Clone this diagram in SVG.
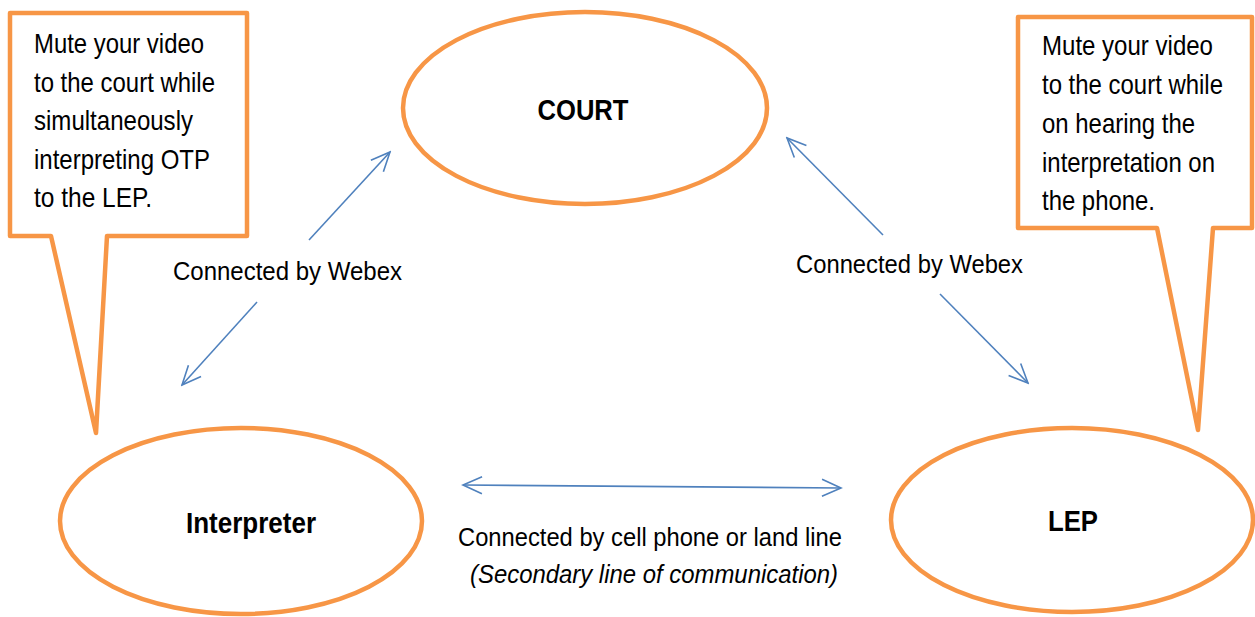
<svg xmlns="http://www.w3.org/2000/svg" width="1255" height="617" viewBox="0 0 1255 617">
<style>
.node{fill:#fff;stroke:#F79646;stroke-width:4.5}
.call{fill:#fff;stroke:#F79646;stroke-width:4.5;stroke-linejoin:round}
.t{font-family:"Liberation Sans Narrow","Liberation Sans",Arial,sans-serif;fill:#000}
.ct{font-size:28.5px}
.lab{font-size:29px;font-weight:bold}
.cl{font-size:25.5px}
.conn line{stroke:#4F81BD;stroke-width:1.6;fill:none}
</style>
<defs>
<marker id="ah" viewBox="-22 -12 24 24" refX="0" refY="0" markerWidth="24" markerHeight="24" markerUnits="userSpaceOnUse" orient="auto-start-reverse">
<path d="M-19,-8.5 L0,0 L-19,8.5" fill="none" stroke="#4F81BD" stroke-width="1.6"/>
</marker>
</defs>
<rect width="1255" height="617" fill="#fff"/>
<g id="court">
<ellipse class="node" cx="585" cy="108" rx="182" ry="96"/>
<text class="t lab" x="583" y="120" text-anchor="middle" textLength="91" lengthAdjust="spacingAndGlyphs">COURT</text>
</g>
<g id="interpreter">
<ellipse class="node" cx="241" cy="521" rx="181" ry="93"/>
<text class="t lab" x="186" y="533" textLength="130" lengthAdjust="spacingAndGlyphs">Interpreter</text>
</g>
<g id="lep">
<ellipse class="node" cx="1072" cy="520" rx="181" ry="92"/>
<text class="t lab" x="1048" y="531" textLength="50" lengthAdjust="spacingAndGlyphs">LEP</text>
</g>
<g id="callout-left">
<path class="call" d="M10,13 H247 V236 H107 L96,433 L51,236 H10 Z"/>
<text class="t ct" x="34" y="53" textLength="170" lengthAdjust="spacingAndGlyphs">Mute your video</text>
<text class="t ct" x="34" y="92" textLength="181" lengthAdjust="spacingAndGlyphs">to the court while</text>
<text class="t ct" x="34" y="130" textLength="159" lengthAdjust="spacingAndGlyphs">simultaneously</text>
<text class="t ct" x="34" y="169" textLength="176" lengthAdjust="spacingAndGlyphs">interpreting OTP</text>
<text class="t ct" x="34" y="207" textLength="118" lengthAdjust="spacingAndGlyphs">to the LEP.</text>
</g>
<g id="callout-right">
<path class="call" d="M1018,17 H1252 V228 H1213 L1198,430 L1157,228 H1018 Z"/>
<text class="t ct" x="1042" y="55" textLength="171" lengthAdjust="spacingAndGlyphs">Mute your video</text>
<text class="t ct" x="1042" y="94" textLength="181" lengthAdjust="spacingAndGlyphs">to the court while</text>
<text class="t ct" x="1042" y="133" textLength="153" lengthAdjust="spacingAndGlyphs">on hearing the</text>
<text class="t ct" x="1042" y="172" textLength="173" lengthAdjust="spacingAndGlyphs">interpretation on</text>
<text class="t ct" x="1042" y="210" textLength="113" lengthAdjust="spacingAndGlyphs">the phone.</text>
</g>
<g id="connectors" class="conn">
<line x1="309" y1="240" x2="390" y2="152" marker-end="url(#ah)"/>
<line x1="257" y1="302" x2="182" y2="385" marker-end="url(#ah)"/>
<line x1="883" y1="235" x2="787" y2="138" marker-end="url(#ah)"/>
<line x1="940" y1="294" x2="1028" y2="383" marker-end="url(#ah)"/>
<line x1="463" y1="485" x2="841" y2="488" marker-start="url(#ah)" marker-end="url(#ah)"/>
</g>
<g id="labels">
<text class="t cl" x="173" y="280" textLength="229" lengthAdjust="spacingAndGlyphs">Connected by Webex</text>
<text class="t cl" x="796" y="273" textLength="227" lengthAdjust="spacingAndGlyphs">Connected by Webex</text>
<text class="t cl" x="458" y="546" textLength="384" lengthAdjust="spacingAndGlyphs">Connected by cell phone or land line</text>
<text class="t cl" x="470" y="583" font-style="italic" textLength="368" lengthAdjust="spacingAndGlyphs">(Secondary line of communication)</text>
</g>
</svg>
